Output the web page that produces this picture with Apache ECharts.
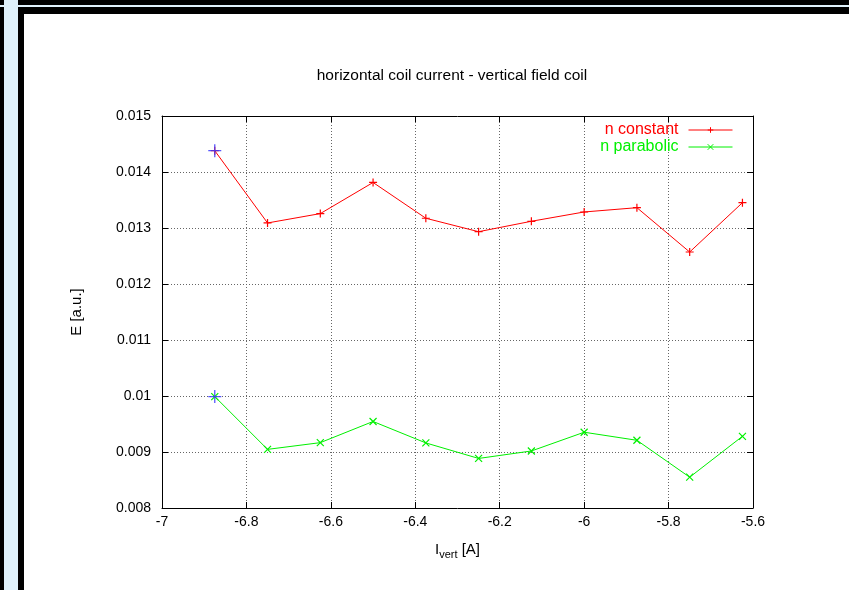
<!DOCTYPE html>
<html>
<head>
<meta charset="utf-8">
<script src="https://cdn.jsdelivr.net/npm/echarts@6/dist/echarts.min.js"></script>
<style>
html,body{margin:0;padding:0;background:#fff;}
#c{width:849px;height:590px;}
</style>
</head>
<body>
<div id="c"></div>
<script>
const currents = [-6.875, -6.75, -6.625, -6.5, -6.375, -6.25, -6.125, -6.0, -5.875, -5.75, -5.625];
const nConstant = [0.01438, 0.01309, 0.013257, 0.013813, 0.013174, 0.012934, 0.01312, 0.013286, 0.013363, 0.012571, 0.013452];
const nParabolic = [0.00999, 0.009047, 0.009167, 0.009545, 0.009162, 0.008885, 0.009018, 0.009353, 0.009209, 0.00855, 0.00928];
const highlightX = [-6.875, -6.875];
const highlightY = [0.01438, 0.00999];
const xTicks = [-7, -6.8, -6.6, -6.4, -6.2, -6, -5.8, -5.6];
const yTicks = [0.008, 0.009, 0.01, 0.011, 0.012, 0.013, 0.014, 0.015];

const FONT = '"Liberation Sans", Arial, Helvetica, sans-serif';
const plus = 'path://M0,5L10,5M5,0L5,10';
const cross = 'path://M0,0L10,10M0,10L10,0';
const RED = '#ff0000';
const GREEN = '#00f000';

const chart = echarts.init(document.getElementById('c'), null, {renderer: 'canvas'});
const lb = '#dff1fb';
const axisCommon = {
  axisLine: {show: true, lineStyle: {color: '#000', width: 1}},
  axisTick: {show: true, inside: true, length: 6, lineStyle: {color: '#000'}},
};
chart.setOption({
  backgroundColor: '#fff',
  animation: false,
  textStyle: {fontFamily: FONT},
  graphic: [
    {type: 'rect', shape: {x: 4, y: 0, width: 14, height: 590}, style: {fill: lb}, z: 100},
    {type: 'rect', shape: {x: 0, y: 5, width: 849, height: 2}, style: {fill: lb}, z: 100},
    {type: 'rect', shape: {x: 0, y: 0, width: 4, height: 5}, style: {fill: '#000'}, z: 100},
    {type: 'rect', shape: {x: 0, y: 7, width: 4, height: 583}, style: {fill: '#000'}, z: 100},
    {type: 'rect', shape: {x: 18, y: 0, width: 831, height: 5}, style: {fill: '#000'}, z: 100},
    {type: 'rect', shape: {x: 18, y: 7, width: 831, height: 7}, style: {fill: '#000'}, z: 100},
    {type: 'rect', shape: {x: 18, y: 14, width: 6, height: 576}, style: {fill: '#000'}, z: 100},
    {type: 'text', x: 452, y: 76, style: {text: 'horizontal coil current - vertical field coil', font: '15.5px ' + FONT, fill: '#000', textAlign: 'center', textVerticalAlign: 'middle'}}
  ],
  legend: {
    orient: 'vertical',
    right: 116,
    top: 122,
    padding: 0,
    align: 'right',
    itemWidth: 44,
    itemHeight: 7,
    itemGap: 1,
    lineStyle: {width: 1},
    itemStyle: {borderWidth: 1},
    textStyle: {fontSize: 16, fontFamily: FONT, padding: [0, 5, 0, 0]},
    data: [
      {name: 'n constant', textStyle: {color: RED}},
      {name: 'n parabolic', textStyle: {color: GREEN}}
    ]
  },
  grid: {left: 162, top: 116, right: 96, bottom: 82, containLabel: false},
  xAxis: [
    Object.assign({
      type: 'value', min: -7, max: -5.6, interval: 0.2, position: 'bottom',
      name: '{a|I}{s|vert}{a| [A]}', nameLocation: 'middle', nameGap: 32,
      nameTextStyle: {rich: {a: {fontSize: 15, fontFamily: FONT, color: '#000'}, s: {fontSize: 11, fontFamily: FONT, color: '#000', padding: [9, 0, 0, 0]}}},
      axisLabel: {fontSize: 14, color: '#000', margin: 7, formatter: v => String(Math.round(v * 10) / 10)},
      splitLine: {show: true, lineStyle: {color: '#666', type: [1, 2], width: 1}}
    }, axisCommon),
    Object.assign({
      type: 'value', min: -7, max: -5.6, interval: 0.2, position: 'top',
      axisLabel: {show: false}, splitLine: {show: false}
    }, axisCommon)
  ],
  yAxis: [
    Object.assign({
      type: 'value', min: 0.008, max: 0.015, interval: 0.001, position: 'left',
      name: 'E [a.u.]', nameLocation: 'middle', nameGap: 78, nameRotate: 90,
      nameTextStyle: {fontSize: 15, color: '#000', fontFamily: FONT},
      axisLabel: {fontSize: 14, color: '#000', margin: 11, formatter: v => String(Math.round(v * 1000) / 1000)},
      splitLine: {show: true, lineStyle: {color: '#666', type: [1, 2], width: 1}}
    }, axisCommon),
    Object.assign({
      type: 'value', min: 0.008, max: 0.015, interval: 0.001, position: 'right',
      axisLabel: {show: false}, splitLine: {show: false}
    }, axisCommon)
  ],
  series: [
    {
      name: 'n constant', type: 'line',
      data: currents.map((x, i) => [x, nConstant[i]]),
      symbol: plus, symbolSize: 8,
      lineStyle: {color: RED, width: 1},
      itemStyle: {color: 'none', borderColor: RED, borderWidth: 1.2},
      z: 3
    },
    {
      name: 'n parabolic', type: 'line',
      data: currents.map((x, i) => [x, nParabolic[i]]),
      symbol: cross, symbolSize: 7,
      lineStyle: {color: GREEN, width: 1},
      itemStyle: {color: 'none', borderColor: GREEN, borderWidth: 1.2},
      z: 3
    },
    {
      name: 'highlight', type: 'scatter',
      data: highlightX.map((x, i) => [x, highlightY[i]]),
      symbol: plus, symbolSize: 13,
      itemStyle: {color: 'none', borderColor: '#3a3aff', borderWidth: 1.3, opacity: 0.85},
      z: 4
    }
  ]
});
</script>
</body>
</html>
